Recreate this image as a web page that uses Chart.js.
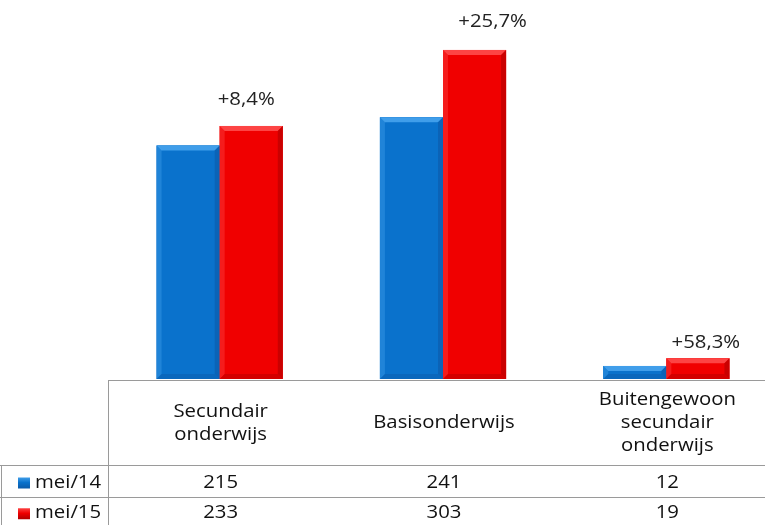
<!DOCTYPE html>
<html>
<head>
<meta charset="utf-8">
<script src="https://cdn.jsdelivr.net/npm/chart.js@4"></script>
<style>
  html, body { margin: 0; padding: 0; background: #fff; overflow: hidden; }
  #wrap { width: 780px; height: 525px; }
</style>
</head>
<body>
<div id="wrap"><canvas id="chart" width="780" height="525"></canvas></div>
<script>
const categories = [['Secundair', 'onderwijs'], ['Basisonderwijs'], ['Buitengewoon', 'secundair', 'onderwijs']];
const seriesNames = ['mei/14', 'mei/15'];
const mei14 = [215, 241, 12];
const mei15 = [233, 303, 19];
const growthLabels = ['+8,4%', '+25,7%', '+58,3%'];

const FONT = '"Open Sans", sans-serif';
const STRETCH = 1.13;
const colors = [
  { dark: '#0b5aa8', mid: '#0a72cc', light: '#4aa6ee' },
  { dark: '#b00000', mid: '#f00000', light: '#ff5050' }
];
// hand placed offsets of the growth labels (dx, height above bar)
const growthDx = [-5, 18, 8];
const growthDy = [26, 28, 15];

// text is a bit wider in the original, so stretch it horizontally
function text (ctx, str, x, y) {
  ctx.save();
  ctx.translate(x, y);
  ctx.scale(STRETCH, 1);
  ctx.fillText(str, 0, 0);
  ctx.restore();
}

// bevel look for the bars
const bevelPlugin = {
  id: 'bevel',
  afterDatasetsDraw (chart) {
    const ctx = chart.ctx;
    chart.data.datasets.forEach((ds, di) => {
      const c = colors[di];
      chart.getDatasetMeta(di).data.forEach(bar => {
        const l = bar.x - bar.width / 2;
        const r = bar.x + bar.width / 2;
        const t = bar.y;
        const b = bar.base;
        const h = b - t;
        const e = Math.min(5, h / 2);
        ctx.save();
        ctx.fillStyle = c.mid;
        ctx.fillRect(l, t, r - l, h);
        // top edge
        ctx.globalAlpha = 0.85;
        ctx.fillStyle = c.light;
        ctx.beginPath();
        ctx.moveTo(l, t); ctx.lineTo(r, t); ctx.lineTo(r - e, t + e); ctx.lineTo(l + e, t + e);
        ctx.closePath(); ctx.fill();
        // left edge
        ctx.globalAlpha = 0.35;
        ctx.beginPath();
        ctx.moveTo(l, t); ctx.lineTo(l + e, t + e); ctx.lineTo(l + e, b - e); ctx.lineTo(l, b);
        ctx.closePath(); ctx.fill();
        // right + bottom edge
        ctx.globalAlpha = 0.6;
        ctx.fillStyle = c.dark;
        ctx.beginPath();
        ctx.moveTo(r, t); ctx.lineTo(r - e, t + e); ctx.lineTo(r - e, b - e); ctx.lineTo(r, b);
        ctx.closePath(); ctx.fill();
        ctx.globalAlpha = 0.45;
        ctx.beginPath();
        ctx.moveTo(l, b); ctx.lineTo(l + e, b - e); ctx.lineTo(r - e, b - e); ctx.lineTo(r, b);
        ctx.closePath(); ctx.fill();
        ctx.restore();
      });
    });
  }
};

// growth labels above the mei/15 bars
const growthPlugin = {
  id: 'growth',
  afterDatasetsDraw (chart) {
    const ctx = chart.ctx;
    const meta = chart.getDatasetMeta(1);
    ctx.save();
    ctx.font = '18px ' + FONT;
    ctx.fillStyle = '#222';
    ctx.textAlign = 'center';
    ctx.textBaseline = 'middle';
    meta.data.forEach((bar, i) => {
      text(ctx, growthLabels[i], bar.x + growthDx[i], bar.y - growthDy[i]);
    });
    ctx.restore();
  }
};

// data table under the chart
const tablePlugin = {
  id: 'dataTable',
  afterDraw (chart) {
    const ctx = chart.ctx;
    const area = chart.chartArea;
    const xs = chart.scales.x;
    const top = area.bottom + 1.5;
    const row1 = 465.5;
    const row2 = 497.5;
    const bottom = 525;
    const right = chart.width;
    ctx.save();
    ctx.strokeStyle = '#9a9a9a';
    ctx.lineWidth = 1;
    ctx.beginPath();
    ctx.moveTo(area.left, top); ctx.lineTo(right, top);
    ctx.moveTo(0, row1); ctx.lineTo(right, row1);
    ctx.moveTo(0, row2); ctx.lineTo(right, row2);
    ctx.moveTo(area.left + 0.5, top); ctx.lineTo(area.left + 0.5, bottom);
    ctx.moveTo(1.5, row1); ctx.lineTo(1.5, bottom);
    ctx.stroke();

    ctx.font = '18px ' + FONT;
    ctx.fillStyle = '#111';
    ctx.textAlign = 'center';
    ctx.textBaseline = 'middle';
    const lh = 23;
    const headMid = (top + row1) / 2;
    categories.forEach((lines, i) => {
      const cx = xs.getPixelForValue(i) + 1;
      lines.forEach((ln, j) => {
        text(ctx, ln, cx, headMid + (j - (lines.length - 1) / 2) * lh);
      });
      text(ctx, String(mei14[i]), cx, (row1 + row2) / 2 + 1);
      text(ctx, String(mei15[i]), cx, (row2 + bottom) / 2 + 2);
    });

    const rows = [(row1 + row2) / 2 + 1, (row2 + bottom) / 2 + 2];
    ctx.textAlign = 'left';
    seriesNames.forEach((name, i) => {
      const y = rows[i];
      const c = colors[i];
      const g = ctx.createLinearGradient(0, y - 6, 0, y + 6);
      g.addColorStop(0, c.light);
      g.addColorStop(0.5, c.mid);
      g.addColorStop(1, c.dark);
      ctx.fillStyle = g;
      ctx.fillRect(18, y - 5, 12, 11);
      ctx.fillStyle = '#111';
      text(ctx, name, 35, y);
    });
    ctx.restore();
  }
};

new Chart(document.getElementById('chart'), {
  type: 'bar',
  data: {
    labels: categories.map(c => c.join(' ')),
    datasets: [
      { label: seriesNames[0], data: mei14, backgroundColor: colors[0].mid },
      { label: seriesNames[1], data: mei15, backgroundColor: colors[1].mid }
    ]
  },
  options: {
    responsive: false,
    animation: false,
    events: [],
    layout: { padding: { left: 108, right: 2, top: 0, bottom: 146 } },
    datasets: { bar: { categoryPercentage: 0.565, barPercentage: 1 } },
    plugins: { legend: { display: false }, tooltip: { enabled: false } },
    scales: {
      x: { display: false },
      y: { display: false, min: 0, max: 349 }
    }
  },
  plugins: [bevelPlugin, growthPlugin, tablePlugin]
});
</script>
</body>
</html>
